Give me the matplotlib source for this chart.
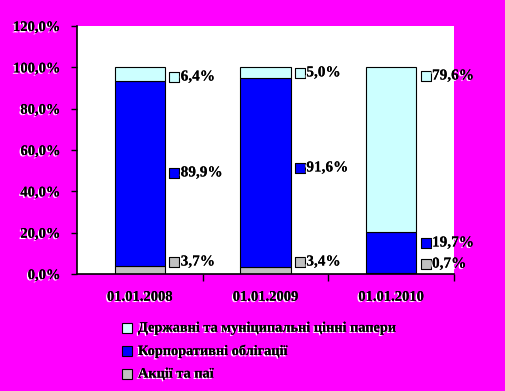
import numpy as np
import matplotlib
matplotlib.use("Agg")
import matplotlib.pyplot as plt
import matplotlib.patheffects as pe

# data
dates = ["01.01.2008", "01.01.2009", "01.01.2010"]
shares = [3.7, 3.4, 0.7]          # Акції та паї
corporate = [89.9, 91.6, 19.7]    # Корпоративні облігації
government = [6.4, 5.0, 79.6]     # Державні та муніципальні цінні папери
series_names = ["Державні та муніципальні цінні папери",
                "Корпоративні облігації",
                "Акції та паї"]
yticks = [0, 20, 40, 60, 80, 100, 120]

# label heights (in %) as they sit in the picture
lab_y_gov = [95.3, 97.3, 95.8]
lab_y_corp = [48.9, 51.3, 15.0]
lab_y_sh = [5.8, 5.8, 4.8]

c_gov = "#CCFFFF"
c_corp = "#0000FF"
c_sh = "#C0C0C0"
bg = "#FF00FF"

plt.rcParams['font.family'] = ['Liberation Serif', 'DejaVu Serif']
plt.rcParams['font.weight'] = 'bold'

emb = [pe.withSimplePatchShadow(offset=(-1, -1), shadow_rgbFace='white', alpha=1.0),
       pe.Normal()]

fig = plt.figure(figsize=(5.05, 3.91), dpi=100, facecolor=bg)
ax = fig.add_axes([77/505, 1-274/391, (454-77)/505, 248/391])
ax.set_facecolor("white")

x = np.arange(len(dates))
w = 0.4
sh = np.array(shares)
co = np.array(corporate)
go = np.array(government)
ax.bar(x, sh, w, color=c_sh, edgecolor="black", lw=0.8)
ax.bar(x, co, w, bottom=sh, color=c_corp, edgecolor="black", lw=0.8)
ax.bar(x, go, w, bottom=sh+co, color=c_gov, edgecolor="black", lw=0.8)

ax.set_xlim(-0.5, 2.5)
ax.set_ylim(0, 120)
ax.set_yticks(yticks)
ax.set_yticklabels(["%d,0%%" % v for v in yticks], fontsize=10.5,
                   fontweight='bold')
for t in ax.get_yticklabels():
    t.set_path_effects(emb)
ax.set_xticks([0.5, 1.5, 2.5], minor=False)
ax.set_xticklabels([])
ax.set_xticks(x, minor=True)
ax.set_xticklabels(dates, minor=True, fontsize=10.5, fontweight='bold')
for t in ax.get_xticklabels(minor=True):
    t.set_path_effects(emb)
ax.tick_params(axis='x', which='minor', length=0, pad=12)
ax.tick_params(axis='x', which='major', length=5, direction='out', width=1)
ax.tick_params(axis='y', length=4, direction='out', width=1, pad=8)
ax.spines['top'].set_visible(False)
ax.spines['right'].set_visible(False)
for s in ['left', 'bottom']:
    ax.spines[s].set_linewidth(1.2)

def fmt(v):
    return ("%.1f%%" % v).replace(".", ",")

for vals, ys, col in [(go, lab_y_gov, c_gov), (co, lab_y_corp, c_corp),
                      (sh, lab_y_sh, c_sh)]:
    for i in range(len(x)):
        ax.scatter(x[i] + w/2 + 0.075, ys[i], s=48, marker='s', color=col,
                   edgecolor='black', lw=0.8, clip_on=False, zorder=5)
        ax.text(x[i] + w/2 + 0.125, ys[i], fmt(vals[i]), fontsize=11,
                fontweight='bold', va='center', ha='left', clip_on=False,
                path_effects=emb, zorder=5)

# legend
for k, (name, col) in enumerate(zip(series_names, [c_gov, c_corp, c_sh])):
    yy = 1 - (328 + 23*k)/391
    fig.patches.append(plt.Rectangle((122/505, yy - 5/391), 10/505, 10/391,
                                     transform=fig.transFigure, facecolor=col,
                                     edgecolor='black', lw=0.8))
    fig.text(138/505, yy, name, fontsize=10.3, fontweight='bold', va='center',
             ha='left', path_effects=emb)

fig.savefig("out.png", dpi=100, facecolor=bg)
